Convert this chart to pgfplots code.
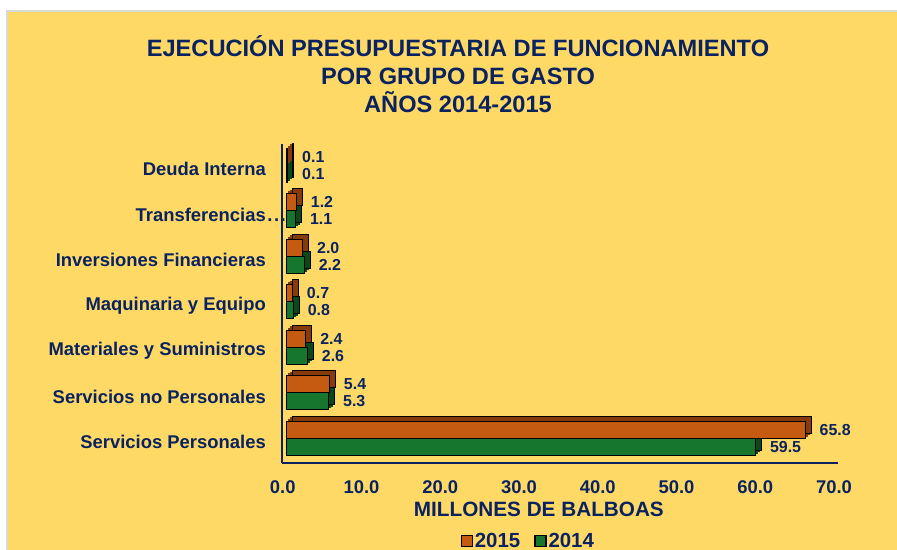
\documentclass[border=0pt]{standalone}
\usepackage{fontspec}
\setmainfont{Liberation Sans}
\usepackage{pgfplots}
\pgfplotsset{compat=1.18}

\definecolor{fondo}{HTML}{FED966}
\definecolor{azul}{HTML}{0A2360}
\definecolor{naranja}{HTML}{C55A11}
\definecolor{naranjaosc}{HTML}{853B0B}
\definecolor{verde}{HTML}{17762D}
\definecolor{verdeosc}{HTML}{0B4719}

% 2015 / 2014, millones de balboas
\pgfplotstableread{
cat  v2015 v2014
0    65.8  59.5
1    5.4   5.3
2    2.4   2.6
3    0.7   0.8
4    2.0   2.2
5    1.2   1.1
6    0.1   0.1
}\datos

\begin{document}
\begin{tikzpicture}[x=1bp,y=1bp]
\useasboundingbox (0,0) rectangle (897,550);
\fill[white] (0,0) rectangle (897,550);
\fill[fondo] (7,0) rectangle (897,539);
\draw[black!15, line width=1.2bp] (7,0) -- (7,539) -- (897,539);

\node[align=center, text=azul, font=\bfseries\fontsize{23.7}{28}\selectfont]
  at (458,475.5) {EJECUCIÓN PRESUPUESTARIA DE FUNCIONAMIENTO\\POR GRUPO DE GASTO\\AÑOS 2014-2015};

\begin{axis}[
  at={(282bp,87bp)}, anchor=south west,
  scale only axis, width=556bp, height=319bp,
  xbar, bar width=17bp,
  xmin=-0.6, xmax=70, ymin=-0.46, ymax=6.55,
  axis x line*=bottom, axis y line*=left,
  axis line style={azul, line width=1.6bp, -},
  major tick length=0pt,
  xtick={0,10,...,70},
  ytick={0,...,6},
  yticklabels={Servicios Personales, Servicios no Personales, Materiales y Suministros,
    Maquinaria y Equipo, Inversiones Financieras,
    Transferencias\rlap{\kern1.5bp.\kern1.6bp.\kern1.6bp.}, Deuda Interna},
  xticklabel={\pgfmathprintnumber[fixed,fixed zerofill,precision=1]{\tick}},
  /pgf/number format/assume math mode=true,
  ticklabel style={text=azul, font=\bfseries\fontsize{18.5}{20}\selectfont, inner sep=0pt},
  xticklabel style={anchor=north, yshift=-17bp, xshift=-4bp},
  yticklabel style={anchor=east, xshift=-16bp},
  xlabel={MILLONES DE BALBOAS},
  xlabel style={at={(axis description cs:0.462,0)}, anchor=north, inner sep=0pt, yshift=-39bp,
    text=azul, font=\bfseries\fontsize{20.8}{22}\selectfont},
  legend style={at={(axis description cs:0.443,-0.2445)}, anchor=center, draw=none, fill=none,
    font=\bfseries\fontsize{20.5}{22}\selectfont, text=azul,
    /tikz/every even column/.append style={column sep=12bp}},
  legend columns=2,
  legend image code/.code={\draw[#1, draw=black, line width=1.2bp] (0bp,-5.5bp) rectangle (11bp,5.5bp);},
  nodes near coords={\pgfmathprintnumber[fixed,fixed zerofill,precision=1]{\pgfplotspointmeta}},
  nodes near coords style={anchor=west, xshift=11bp, text=azul, font=\bfseries\fontsize{16}{18}\selectfont},
  profundo/.style={forget plot, nodes near coords={}, line width=0.8bp},
]
% caras de profundidad (extrusión en tres pasos)
\addplot[profundo, fill=naranjaosc, draw=naranjaosc, bar shift=12.5bp, xshift=2bp, yshift=1.7bp] table[x=v2015, y=cat] {\datos};
\addplot[profundo, fill=naranjaosc, draw=naranjaosc, bar shift=12.5bp, xshift=4bp, yshift=3.3bp] table[x=v2015, y=cat] {\datos};
\addplot[profundo, fill=naranjaosc, draw=black, bar shift=12.5bp, xshift=6bp, yshift=5bp] table[x=v2015, y=cat] {\datos};
\addplot[profundo, fill=verdeosc, draw=verdeosc, bar shift=-4.5bp, xshift=2bp, yshift=1.7bp] table[x=v2014, y=cat] {\datos};
\addplot[profundo, fill=verdeosc, draw=verdeosc, bar shift=-4.5bp, xshift=4bp, yshift=3.3bp] table[x=v2014, y=cat] {\datos};
\addplot[profundo, fill=verdeosc, draw=black, bar shift=-4.5bp, xshift=6bp, yshift=5bp] table[x=v2014, y=cat] {\datos};
% caras frontales
\addplot[fill=naranja, draw=black, line width=0.8bp, bar shift=12.5bp] table[x=v2015, y=cat] {\datos};
\addplot[fill=verde, draw=black, line width=0.8bp, bar shift=-4.5bp] table[x=v2014, y=cat] {\datos};
\legend{2015, 2014}
\end{axis}
\end{tikzpicture}
\end{document}
